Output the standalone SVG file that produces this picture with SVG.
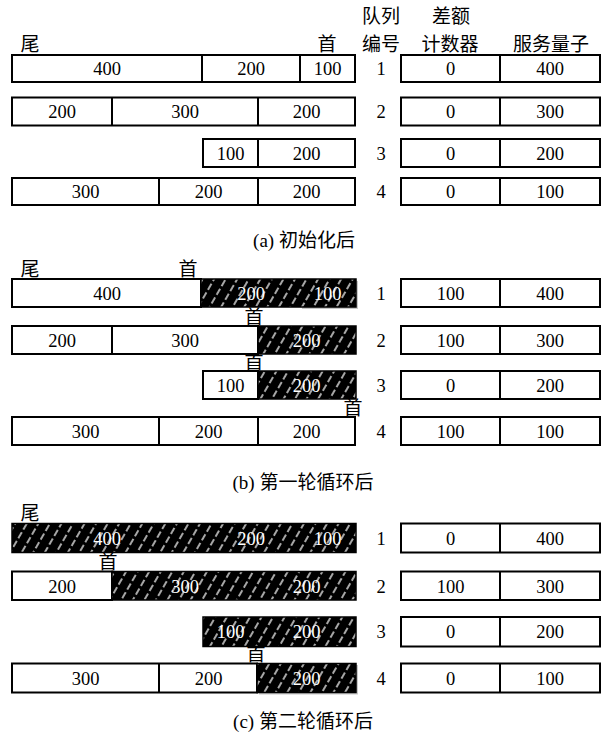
<svg xmlns="http://www.w3.org/2000/svg" width="603" height="736" viewBox="0 0 603 736">
<style>
.box{fill:#fff;stroke:#000;stroke-width:2}
.dk{fill:url(#hatch);stroke:#000;stroke-width:1.5}
.ln{stroke:#000;stroke-width:2;fill:none}
.sh{fill:#c8c8c8}
.n{font-family:"Liberation Serif","Times New Roman",serif;font-size:18.5px;text-anchor:middle;fill:#000}
.w{fill:#fff}
.c{font-family:"Liberation Serif","Noto Sans CJK SC",serif;font-size:19px;text-anchor:middle;fill:#000}
.h{font-family:"Noto Sans CJK SC",sans-serif;font-size:19px;text-anchor:middle;fill:#000}
</style>
<defs>
<pattern id="hatch" patternUnits="userSpaceOnUse" width="10" height="30" patternTransform="rotate(30)">
<rect x="0" y="0" width="10" height="30" fill="#000"/>
<line x1="5" y1="0" x2="5" y2="30" stroke="#fff" stroke-width="1.3" stroke-dasharray="7 3"/>
</pattern>
</defs>

<g id="headers">
<text class="h" x="381" y="23">队列</text>
<text class="h" x="381" y="51">编号</text>
<text class="h" x="451" y="23">差额</text>
<text class="h" x="450" y="51">计数器</text>
<text class="h" x="551" y="51">服务量子</text>
</g>

<!-- ===== Panel (a) ===== -->
<g id="a-labels">
<text class="h" x="30" y="51">尾</text>
<text class="h" x="327" y="51">首</text>
</g>
<g id="a-q1">
<rect class="box" x="12" y="55" width="343" height="27"/>
<line class="ln" x1="202" y1="55" x2="202" y2="82"/>
<line class="ln" x1="300" y1="55" x2="300" y2="82"/>
<text class="n" x="107" y="75">400</text><text class="n" x="251" y="75">200</text><text class="n" x="327.5" y="75">100</text>
<text class="n" x="381" y="75">1</text>
<rect class="box" x="401" y="55" width="199" height="27"/>
<line class="ln" x1="500" y1="55" x2="500" y2="82"/>
<text class="n" x="450.5" y="75">0</text><text class="n" x="550" y="75">400</text>
</g>
<g id="a-q2">
<rect class="box" x="12" y="97.5" width="343" height="28"/>
<line class="ln" x1="112" y1="97.5" x2="112" y2="125.5"/>
<line class="ln" x1="258" y1="97.5" x2="258" y2="125.5"/>
<text class="n" x="62" y="118">200</text><text class="n" x="185" y="118">300</text><text class="n" x="306.5" y="118">200</text>
<text class="n" x="381" y="118">2</text>
<rect class="box" x="401" y="97.5" width="199" height="28"/>
<line class="ln" x1="500" y1="97.5" x2="500" y2="125.5"/>
<text class="n" x="450.5" y="118">0</text><text class="n" x="550" y="118">300</text>
</g>
<g id="a-q3">
<rect class="box" x="203" y="139" width="152" height="28"/>
<line class="ln" x1="258" y1="139" x2="258" y2="167"/>
<text class="n" x="230.5" y="159.5">100</text><text class="n" x="306.5" y="159.5">200</text>
<text class="n" x="381" y="159.5">3</text>
<rect class="box" x="401" y="139" width="199" height="28"/>
<line class="ln" x1="500" y1="139" x2="500" y2="167"/>
<text class="n" x="450.5" y="159.5">0</text><text class="n" x="550" y="159.5">200</text>
</g>
<g id="a-q4">
<rect class="box" x="12" y="178" width="343" height="27"/>
<line class="ln" x1="159" y1="178" x2="159" y2="205"/>
<line class="ln" x1="258" y1="178" x2="258" y2="205"/>
<text class="n" x="85.5" y="198">300</text><text class="n" x="208.5" y="198">200</text><text class="n" x="306.5" y="198">200</text>
<text class="n" x="381" y="198">4</text>
<rect class="box" x="401" y="178" width="199" height="27"/>
<line class="ln" x1="500" y1="178" x2="500" y2="205"/>
<text class="n" x="450.5" y="198">0</text><text class="n" x="550" y="198">100</text>
</g>
<text class="c" x="304" y="247">(a) 初始化后</text>

<!-- ===== Panel (b) ===== -->
<g id="b-labels">
<text class="h" x="30" y="276">尾</text>
<text class="h" x="188" y="276">首</text>
<text class="h" x="254" y="324" font-size="17">首</text>
<text class="h" x="254" y="369" font-size="17">首</text>
<text class="h" x="353" y="415" font-size="17">首</text>
</g>
<g id="b-q1">
<rect class="sh" x="302" y="281" width="56" height="28"/>
<rect class="box" x="12" y="279" width="189" height="28"/>
<rect class="dk" x="201" y="279" width="155" height="28"/>
<text class="n" x="107" y="299.5">400</text><text class="n w" x="251" y="299.5">200</text><text class="n w" x="327.5" y="299.5">100</text>
<text class="n" x="381" y="299.5">1</text>
<rect class="box" x="401" y="279" width="199" height="28"/>
<line class="ln" x1="500" y1="279" x2="500" y2="307"/>
<text class="n" x="450.5" y="299.5">100</text><text class="n" x="550" y="299.5">400</text>
</g>
<g id="b-q2">
<rect class="box" x="12" y="326" width="246" height="28"/>
<line class="ln" x1="112" y1="326" x2="112" y2="354"/>
<rect class="dk" x="258" y="326" width="98" height="28"/>
<text class="n" x="62" y="346.5">200</text><text class="n" x="185" y="346.5">300</text><text class="n w" x="306.5" y="346.5">200</text>
<text class="n" x="381" y="346.5">2</text>
<rect class="box" x="401" y="326" width="199" height="28"/>
<line class="ln" x1="500" y1="326" x2="500" y2="354"/>
<text class="n" x="450.5" y="346.5">100</text><text class="n" x="550" y="346.5">300</text>
</g>
<g id="b-q3">
<rect class="box" x="203" y="371" width="55" height="28"/>
<rect class="dk" x="258" y="371" width="98" height="28"/>
<text class="n" x="230.5" y="391.5">100</text><text class="n w" x="306.5" y="391.5">200</text>
<text class="n" x="381" y="391.5">3</text>
<rect class="box" x="401" y="371" width="199" height="28"/>
<line class="ln" x1="500" y1="371" x2="500" y2="399"/>
<text class="n" x="450.5" y="391.5">0</text><text class="n" x="550" y="391.5">200</text>
</g>
<g id="b-q4">
<rect class="box" x="12" y="417" width="343" height="28"/>
<line class="ln" x1="159" y1="417" x2="159" y2="445"/>
<line class="ln" x1="258" y1="417" x2="258" y2="445"/>
<text class="n" x="85.5" y="437.5">300</text><text class="n" x="208.5" y="437.5">200</text><text class="n" x="306.5" y="437.5">200</text>
<text class="n" x="381" y="437.5">4</text>
<rect class="box" x="401" y="417" width="199" height="28"/>
<line class="ln" x1="500" y1="417" x2="500" y2="445"/>
<text class="n" x="450.5" y="437.5">100</text><text class="n" x="550" y="437.5">100</text>
</g>
<text class="c" x="303" y="489">(b) 第一轮循环后</text>

<!-- ===== Panel (c) ===== -->
<g id="c-labels">
<text class="h" x="30" y="520">尾</text>
<text class="h" x="108" y="569">首</text>
<text class="h" x="256" y="661">首</text>
</g>
<g id="c-q1">
<rect class="dk" x="12" y="523.5" width="344" height="29"/>
<text class="n w" x="107" y="544.5">400</text><text class="n w" x="251" y="544.5">200</text><text class="n w" x="327.5" y="544.5">100</text>
<text class="n" x="381" y="544.5">1</text>
<rect class="box" x="401" y="523.5" width="199" height="29"/>
<line class="ln" x1="500" y1="523.5" x2="500" y2="552.5"/>
<text class="n" x="450.5" y="544.5">0</text><text class="n" x="550" y="544.5">400</text>
</g>
<g id="c-q2">
<rect class="box" x="12" y="571.5" width="100" height="28.5"/>
<rect class="dk" x="112" y="571.5" width="244" height="28.5"/>
<text class="n" x="62" y="592.5">200</text><text class="n w" x="185" y="592.5">300</text><text class="n w" x="306.5" y="592.5">200</text>
<text class="n" x="381" y="592.5">2</text>
<rect class="box" x="401" y="571.5" width="199" height="28.5"/>
<line class="ln" x1="500" y1="571.5" x2="500" y2="600"/>
<text class="n" x="450.5" y="592.5">100</text><text class="n" x="550" y="592.5">300</text>
</g>
<g id="c-q3">
<rect class="dk" x="203" y="617" width="153" height="29.5"/>
<text class="n w" x="230.5" y="638">100</text><text class="n w" x="306.5" y="638">200</text>
<text class="n" x="381" y="638">3</text>
<rect class="box" x="401" y="617" width="199" height="29.5"/>
<line class="ln" x1="500" y1="617" x2="500" y2="646.5"/>
<text class="n" x="450.5" y="638">0</text><text class="n" x="550" y="638">200</text>
</g>
<g id="c-q4">
<rect class="sh" x="259" y="665" width="99" height="29.5"/>
<rect class="box" x="12" y="663.5" width="245" height="29"/>
<line class="ln" x1="159" y1="663.5" x2="159" y2="692.5"/>
<rect class="dk" x="257" y="663.5" width="99" height="29"/>
<text class="n" x="85.5" y="684.5">300</text><text class="n" x="208.5" y="684.5">200</text><text class="n w" x="306.5" y="684.5">200</text>
<text class="n" x="381" y="684.5">4</text>
<rect class="box" x="401" y="663.5" width="199" height="29"/>
<line class="ln" x1="500" y1="663.5" x2="500" y2="692.5"/>
<text class="n" x="450.5" y="684.5">0</text><text class="n" x="550" y="684.5">100</text>
</g>
<text class="c" x="303" y="728">(c) 第二轮循环后</text>
<g id="connectors"/>
</svg>
